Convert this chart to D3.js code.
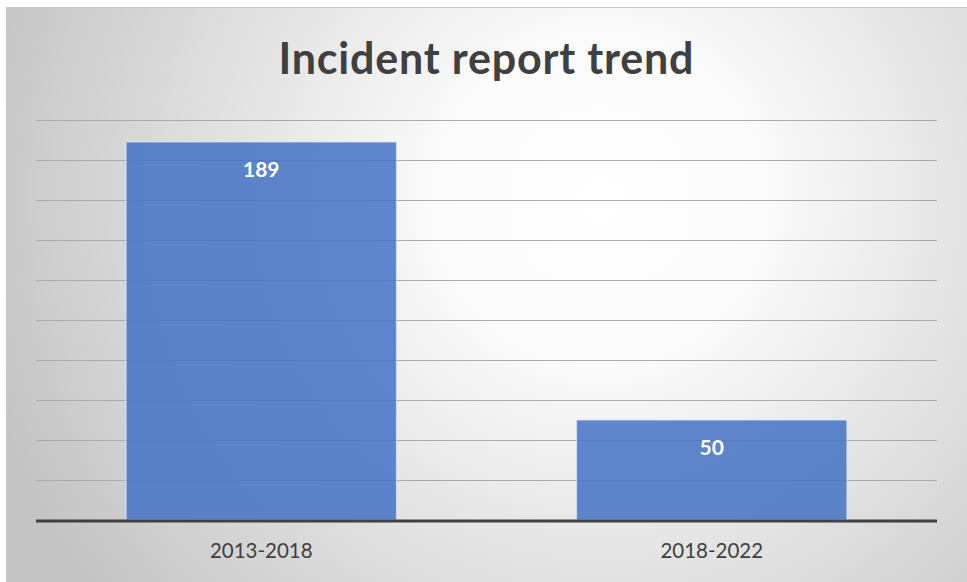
<!DOCTYPE html>
<html>
<head>
<meta charset="utf-8">
<script src="https://cdn.jsdelivr.net/npm/d3@7"></script>
<style>
  html, body { margin: 0; padding: 0; background: #fff; overflow: hidden; }
  svg { display: block; }
</style>
</head>
<body>
<div id="chart"></div>
<script>
// chart data
var categories = ["2013-2018", "2018-2022"];
var values = [189, 50];
var yTicks = [0, 20, 40, 60, 80, 100, 120, 140, 160, 180, 200];
var title = "Incident report trend";

(function() {
  let width = 967, height = 582;
  let margin = { top: 120, left: 36, right: 30, bottom: 62 };

  let svg = d3.select("#chart")
    .append("svg")
    .attr("width", width)
    .attr("height", height);

  // background gradient, light in the middle, grey at the corners
  let defs = svg.append("defs");
  let grad = defs.append("radialGradient")
    .attr("id", "bg")
    .attr("gradientUnits", "userSpaceOnUse")
    .attr("cx", 600).attr("cy", 200)
    .attr("r", 640);
  grad.append("stop").attr("offset", "0%").attr("stop-color", "#ffffff");
  grad.append("stop").attr("offset", "25%").attr("stop-color", "#fbfbfb");
  grad.append("stop").attr("offset", "100%").attr("stop-color", "#c4c4c4");

  svg.append("rect")
    .attr("x", 6.5).attr("y", 7.5)
    .attr("width", width + 10).attr("height", height + 10)
    .attr("fill", "url(#bg)")
    .attr("stroke", "#c8c8c8")
    .attr("stroke-width", 1);

  let x = d3.scaleBand()
    .domain(categories)
    .range([margin.left, width - margin.right])
    .paddingInner(0.4)
    .paddingOuter(0.2);

  let y = d3.scaleLinear()
    .domain([0, 200])
    .range([height - margin.bottom, margin.top]);

  // gridlines
  svg.append("g")
    .selectAll("line")
    .data(yTicks.filter(d => d > 0))
    .enter().append("line")
    .attr("x1", margin.left)
    .attr("x2", width - margin.right)
    .attr("y1", d => Math.round(y(d)) + 0.5)
    .attr("y2", d => Math.round(y(d)) + 0.5)
    .attr("stroke", "#ababab")
    .attr("stroke-width", 1);

  // bars
  svg.append("g")
    .selectAll("rect")
    .data(values)
    .enter().append("rect")
    .attr("x", (d, i) => x(categories[i]))
    .attr("y", d => y(d))
    .attr("width", x.bandwidth())
    .attr("height", d => y(0) - y(d))
    .attr("fill", "#4472c4")
    .attr("fill-opacity", 0.85)
    .attr("stroke", "#dbe6f7")
    .attr("stroke-opacity", 0.8)
    .attr("stroke-width", 1);

  // value labels
  svg.append("g")
    .selectAll("text")
    .data(values)
    .enter().append("text")
    .attr("x", (d, i) => x(categories[i]) + x.bandwidth() / 2)
    .attr("y", d => y(d) + 35)
    .attr("text-anchor", "middle")
    .attr("font-family", "Lato, 'Open Sans', sans-serif")
    .attr("font-weight", "bold")
    .attr("font-size", 21)
    .attr("fill", "#ffffff")
    .text(d => d);

  // x axis
  let xAxis = svg.append("g")
    .attr("transform", "translate(0," + (y(0) + 1) + ")")
    .call(d3.axisBottom(x).tickSize(0).tickPadding(22));
  xAxis.select(".domain")
    .attr("stroke", "#404040")
    .attr("stroke-width", 3)
    .attr("d", "M" + margin.left + ",0H" + (width - margin.right));
  xAxis.selectAll("text")
    .attr("font-family", "Lato, 'Open Sans', sans-serif")
    .attr("font-size", 20.5)
    .attr("fill", "#404040");

  // title
  svg.append("text")
    .attr("x", 486)
    .attr("y", 74)
    .attr("text-anchor", "middle")
    .attr("font-family", "Lato, 'Open Sans', sans-serif")
    .attr("font-weight", "bold")
    .attr("font-size", 43)
    .attr("textLength", 415)
    .attr("lengthAdjust", "spacing")
    .attr("fill", "#404040")
    .text(title);
})();
</script>
</body>
</html>
